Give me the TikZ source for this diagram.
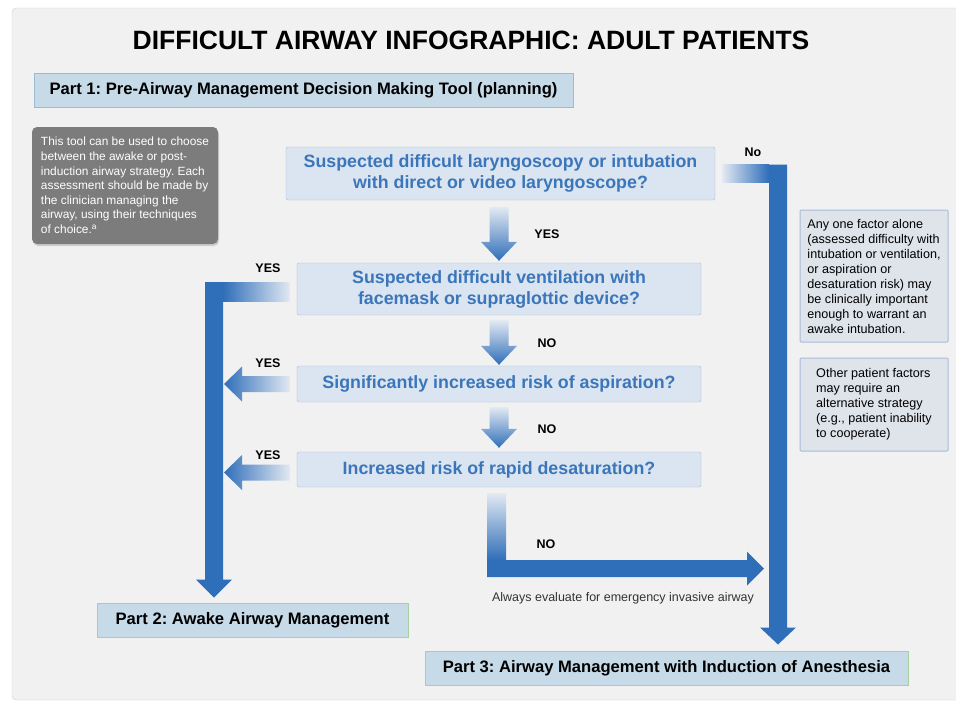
\documentclass[tikz,border=0pt]{standalone}
\usepackage{fontspec}
\setmainfont{Liberation Sans}
\usetikzlibrary{calc,shadows}
\frenchspacing

\definecolor{arrowblue}{HTML}{2F6EB9}
\definecolor{fadeblue}{HTML}{E2E9F2}
\definecolor{qfill}{HTML}{DBE5F1}
\definecolor{qline}{HTML}{A8BCD8}
\definecolor{qtext}{HTML}{3B76BA}
\definecolor{partfill}{HTML}{C6DAE7}
\definecolor{partgreen}{HTML}{A8CFA0}
\definecolor{partblue}{HTML}{9DB9D3}
\definecolor{panel}{HTML}{F1F1F1}
\definecolor{notegray}{HTML}{7C7C7C}
\definecolor{infofill}{HTML}{DFE3EA}

\tikzset{
  question/.style={draw=qline, fill=qfill, text=qtext, rounded corners=2pt,
    font=\bfseries\fontsize{17.8}{21}\selectfont, align=center, inner sep=0pt},
  partbox/.style={draw=partgreen, fill=partfill, line width=1pt,
    font=\bfseries\fontsize{16.6}{19}\selectfont, inner sep=0pt, minimum height=34pt},
  infobox/.style={draw=qline, fill=infofill, line width=1pt, rounded corners=1pt,
    font=\fontsize{12.6}{15}\selectfont, align=left, inner sep=0pt},
  notebox/.style={fill=notegray, text=white, rounded corners=5pt,
    drop shadow={shadow xshift=1pt, shadow yshift=-2pt, opacity=0.3},
    font=\fontsize{11.9}{14.6}\selectfont, align=left, inner sep=0pt},
  answer/.style={font=\bfseries\fontsize{12.5}{14}\selectfont},
}

% block arrow pointing down, from top centre #1 to tip #2
\newcommand{\blockdown}[2]{%
  \shade[top color=fadeblue, bottom color=arrowblue]
    ($(#1)+(-9.5,0)$) -- ($(#1)+(9.5,0)$) -- ($(#2)+(9.5,-19)$)
    -- ($(#2)+(18,-19)$) -- (#2) -- ($(#2)+(-18,-19)$)
    -- ($(#2)+(-9.5,-19)$) -- cycle;}
% block arrow pointing left, from right end #1 to tip #2
\newcommand{\blockleft}[2]{%
  \shade[left color=arrowblue, right color=fadeblue]
    ($(#1)+(0,-8)$) -- ($(#1)+(0,8)$) -- ($(#2)+(18,8)$)
    -- ($(#2)+(18,17.5)$) -- (#2) -- ($(#2)+(18,-17.5)$)
    -- ($(#2)+(18,-8)$) -- cycle;}

\begin{document}
\begin{tikzpicture}[x=1pt, y=-1pt]
    \useasboundingbox (0,0) rectangle (956,707);
    \fill[white] (0,0) rectangle (956,707);
    \draw[black!18, fill=panel, rounded corners=4pt] (12,8) rectangle (962,700);

    \node[font=\bfseries\fontsize{26.5}{30}\selectfont] (title) at (471,40)
        {DIFFICULT AIRWAY INFOGRAPHIC: ADULT PATIENTS};
    \node[partbox, draw=partblue, minimum width=539pt] (part1) at (303.5,90.5)
        {Part 1: Pre-Airway Management Decision Making Tool (planning)};

    \node[notebox, minimum width=186pt, minimum height=117pt] (note) at (125,185.5)
        {This tool can be used to choose\\between the awake or post-\\induction airway strategy. Each\\assessment should be made by\\the clinician managing the\\airway, using their techniques\\of choice.\textsuperscript{a}};

    \node[question, minimum width=429pt, minimum height=53pt] (q1) at (500.5,173.5)
        {Suspected difficult laryngoscopy or intubation\\with direct or video laryngoscope?};
    \node[question, minimum width=404pt, minimum height=52pt] (q2) at (499,289)
        {Suspected difficult ventilation with\\facemask or supraglottic device?};
    \node[question, minimum width=404pt, minimum height=36pt] (q3) at (499,384)
        {Significantly increased risk of aspiration?};
    \node[question, minimum width=404pt, minimum height=35pt] (q4) at (499,469.5)
        {Increased risk of rapid desaturation?};

    \node[infobox, minimum width=148pt, minimum height=132pt] (info1) at (874,276)
        {Any one factor alone\\(assessed difficulty with\\intubation or ventilation,\\or aspiration or\\desaturation risk) may\\be clinically important\\enough to warrant an\\awake intubation.};
    \node[infobox, minimum width=148pt, minimum height=93pt] (info2) at (874,404.5)
        {Other patient factors\\may require an\\alternative strategy\\(e.g., patient inability\\to cooperate)};

    \node[partbox, minimum width=311pt] (part2) at (252.5,620) {Part 2: Awake Airway Management};
    \node[partbox, minimum width=483pt] (part3) at (666.5,668) {Part 3: Airway Management with Induction of Anesthesia};

    \node[answer] (yes1) at (547,234) {YES};
    \node[answer] (no1) at (547,343) {NO};
    \node[answer] (no2) at (547,429) {NO};
    \node[answer] (yes2) at (268,268) {YES};
    \node[answer] (yes3) at (268,363) {YES};
    \node[answer] (yes4) at (268,455) {YES};
    \node[answer] (no0) at (753,152) {No};
    \node[answer] (no3) at (546,544) {NO};
    \node[font=\fontsize{12.5}{14}\selectfont, text=black!80] (always) at (623,598)
        {Always evaluate for emergency invasive airway};

    \coordinate (awakebar) at (214,0);
    \coordinate (inductbar) at (778,0);

    % down the middle
    \coordinate (a1top) at ($(q2.north |- q1.south)+(0,7)$);
    \coordinate (a1tip) at ($(q2.north)+(0,-2)$);
    \coordinate (a2top) at ($(q2.south)+(0,5)$);
    \coordinate (a2tip) at ($(q3.north)+(0,-1)$);
    \coordinate (a3top) at ($(q3.south)+(0,5)$);
    \coordinate (a3tip) at ($(q4.north)+(0,-4)$);
    \blockdown{a1top}{a1tip}
    \blockdown{a2top}{a2tip}
    \blockdown{a3top}{a3tip}

    % YES to awake
    \coordinate (yesstart) at ($(q2.west)+(-7,2.5)$);
    \shade[left color=arrowblue, middle color=arrowblue!75!fadeblue, right color=fadeblue]
        ($(yesstart -| awakebar)+(9,-9.5)$) rectangle ($(yesstart)+(0,9.5)$);
    \fill[arrowblue] ($(yesstart -| awakebar)+(-9,-9.5)$) -- ($(yesstart -| awakebar)+(9,-9.5)$)
        -- ($(part2.north -| awakebar)+(9,-23)$) -- ($(part2.north -| awakebar)+(18,-23)$)
        -- ($(part2.north -| awakebar)+(0,-5)$) -- ($(part2.north -| awakebar)+(-18,-23)$)
        -- ($(part2.north -| awakebar)+(-9,-23)$) -- cycle;
    \blockleft{$(q3.west)+(-7,0)$}{$(q3.west -| awakebar)+(10,0)$}
    \blockleft{$(q4.west)+(-7,3)$}{$(q4.west -| awakebar)+(10,3)$}

    % No to induction
    \coordinate (nostart) at ($(q1.east)+(7,0)$);
    \shade[left color=fadeblue, right color=arrowblue]
        ($(nostart)+(0,-9)$) rectangle ($(nostart -| inductbar)+(-9,9)$);
    \fill[arrowblue] ($(nostart -| inductbar)+(-9,-9)$) -- ($(nostart -| inductbar)+(9,-9)$)
        -- ($(part3.north -| inductbar)+(9,-23)$) -- ($(part3.north -| inductbar)+(18,-23)$)
        -- ($(part3.north -| inductbar)+(0,-6)$) -- ($(part3.north -| inductbar)+(-18,-23)$)
        -- ($(part3.north -| inductbar)+(-9,-23)$) -- cycle;

    % last NO
    \coordinate (lastno) at ($(q4.south)+(-2.5,6)$);
    \coordinate (lastbend) at ($(lastno)+(0,75.5)$);
    \coordinate (lasttip) at ($(lastbend -| inductbar)+(-14,0)$);
    \shade[top color=fadeblue, bottom color=arrowblue]
        ($(lastno)+(-9.5,0)$) rectangle ($(lastbend)+(9.5,-8.5)$);
    \fill[arrowblue] ($(lastbend)+(-9.5,-8.5)$) -- ($(lasttip)+(-17,-8.5)$)
        -- ($(lasttip)+(-17,-17)$) -- (lasttip) -- ($(lasttip)+(-17,17)$)
        -- ($(lasttip)+(-17,8.5)$) -- ($(lastbend)+(-9.5,8.5)$) -- cycle;
\end{tikzpicture}
\end{document}
